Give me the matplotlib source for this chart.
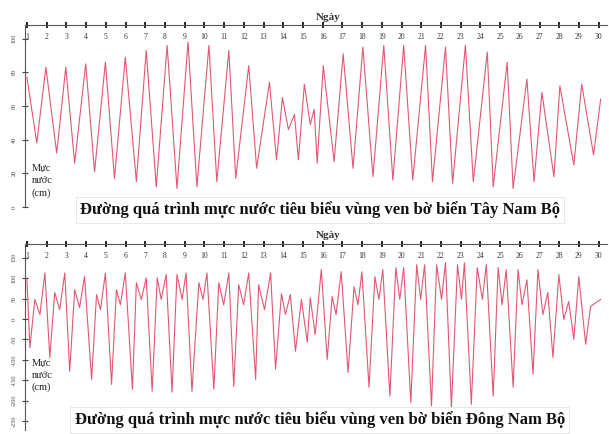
import matplotlib
matplotlib.use("Agg")
import matplotlib.pyplot as plt

# --- data: tidal extremes (time in days, level in cm) ---
days = list(range(1, 31))

west_t = [1.00, 1.50, 1.96, 2.51, 2.97, 3.42, 3.98, 4.43, 4.98, 5.44, 5.99, 6.55,
          7.05, 7.56, 8.11, 8.61, 9.17, 9.62, 10.23, 10.63, 11.24, 11.59, 12.25,
          12.65, 13.30, 13.66, 13.96, 14.26, 14.57, 14.77, 15.07, 15.37, 15.57,
          15.72, 16.03, 16.58, 17.04, 17.54, 18.04, 18.55, 19.10, 19.56, 20.11,
          20.57, 21.22, 21.57, 22.23, 22.59, 23.24, 23.64, 24.35, 24.65, 25.36,
          25.66, 26.36, 26.72, 27.12, 27.73, 28.03, 28.74, 29.14, 29.74, 30.10]
west_h = [77, 38, 83, 32, 83, 26, 85, 21, 86, 17, 89, 15,
          93, 12, 96, 11, 98, 12, 96, 15, 93, 17, 84,
          23, 74, 28, 65, 46, 55, 28, 73, 49, 58,
          26, 84, 27, 91, 23, 95, 18, 96, 16, 96,
          16, 96, 15, 95, 14, 96, 15, 92, 12, 86,
          11, 76, 15, 68, 18, 72, 25, 73, 31, 64]

east_t = [1.00, 1.15, 1.40, 1.66, 1.91, 2.16, 2.41, 2.66, 2.92, 3.17, 3.42, 3.67,
          3.92, 4.28, 4.53, 4.73, 4.98, 5.29, 5.54, 5.74, 5.99, 6.35, 6.55, 6.80,
          7.05, 7.35, 7.61, 7.81, 8.06, 8.36, 8.61, 8.87, 9.07, 9.37, 9.72, 9.93,
          10.13, 10.48, 10.73, 10.98, 11.24, 11.49, 11.74, 11.99, 12.25, 12.60,
          12.75, 13.05, 13.36, 13.61, 13.91, 14.11, 14.36, 14.62, 14.92, 15.22,
          15.37, 15.62, 15.93, 16.23, 16.48, 16.68, 16.94, 17.29, 17.59, 17.79,
          17.99, 18.35, 18.65, 18.85, 19.05, 19.41, 19.71, 19.91, 20.11, 20.47,
          20.77, 20.97, 21.17, 21.52, 21.78, 22.03, 22.23, 22.53, 22.84, 23.04,
          23.19, 23.54, 23.84, 24.10, 24.30, 24.65, 24.90, 25.10, 25.31, 25.66,
          25.91, 26.11, 26.36, 26.67, 26.92, 27.17, 27.42, 27.68, 27.98, 28.23,
          28.48, 28.74, 28.99, 29.34, 29.59, 30.10]
east_h = [96, -70, 48, 11, 113, -94, 65, 23, 113, -128, 72, 28,
          104, -148, 60, 23, 113, -160, 72, 35, 113, -172, 89, 48,
          101, -177, 101, 48, 109, -179, 109, 48, 113, -177, 89, 48,
          113, -172, 89, 35, 113, -165, 84, 35, 113, -148,
          84, 23, 113, -123, 62, 11, 60, -79, 48, -57,
          52, -38, 121, -99, 55, 11, 116, -131, 79, 35,
          116, -167, 104, 48, 121, -189, 126, 48, 126, -204,
          133, 48, 133, -213, 133, 48, 138, -216, 133, 48,
          138, -209, 126, 48, 133, -189, 126, 35, 121, -167,
          121, 35, 96, -135, 121, 11, 65, -94, 109, -1,
          43, -50, 104, -62, 31, 48]

west_ticks = [100, 80, 60, 40, 20, 0]
east_ticks = [150, 100, 50, 0, -50, -100, -150, -200, -250]

title_west = "Đường quá trình mực nước tiêu biểu vùng ven bờ biển Tây Nam Bộ"
title_east = "Đường quá trình mực nước tiêu biểu vùng ven bờ biển Đông Nam Bộ"

line_color = "#e05873"
serif = ["Liberation Serif", "DejaVu Serif"]

fig = plt.figure(figsize=(6.09, 4.34), dpi=100)


def panel(rect, t, h, ticks, ylim, title, title_y, unit_y):
    ax = fig.add_axes(rect)
    ax.plot(t, h, color=line_color, lw=0.8)
    ax.set_xlim(0.9, 30.4)
    ax.set_ylim(*ylim)
    for s in ["right", "bottom"]:
        ax.spines[s].set_visible(False)
    ax.spines["top"].set_color("#555555")
    ax.spines["left"].set_color("#555555")
    ax.spines["top"].set_linewidth(0.8)
    ax.spines["left"].set_linewidth(0.8)

    # day axis on top, labels sit just under the axis line
    ax.xaxis.tick_top()
    ax.set_xticks(days)
    ax.set_xticklabels([])
    ax.tick_params(axis="x", direction="inout", length=5, width=1.4, color="#222222")
    for d in days:
        ax.text(d, 0.955, str(d), transform=ax.get_xaxis_transform(),
                ha="center", va="top", fontsize=5.5, family=serif, color="#333333")
    ax.text(16.3, 1.02, "Ngày", transform=ax.get_xaxis_transform(),
            ha="center", va="bottom", fontsize=8, family=serif,
            fontweight="bold", color="#333333")

    ax.set_yticks(ticks)
    ax.set_yticklabels([str(v) for v in ticks], rotation=90, va="center",
                       fontsize=4.5, family=serif, color="#444444")
    ax.tick_params(axis="y", direction="inout", length=4, width=0.8,
                   color="#444444", pad=4)

    ax.text(0.012, unit_y, "Mực\nnước\n(cm)", transform=ax.transAxes,
            ha="left", va="top", fontsize=7.5, family=serif, color="#222222",
            linespacing=1.45)
    fig.text(0.525, title_y, title, ha="center", va="center", fontsize=12,
             family=serif, fontweight="bold", color="#111111",
             bbox=dict(boxstyle="square,pad=0.25", fc="white", ec="#e4e4e4", lw=0.6))
    return ax


panel([0.041, 0.523, 0.955, 0.419], west_t, west_h, west_ticks, (0, 108),
      title_west, 1 - 210 / 434, 0.235)
panel([0.041, 0.009, 0.955, 0.429], east_t, east_h, east_ticks, (-272, 184),
      title_east, 1 - 420 / 434, 0.385)

fig.savefig("out.png", dpi=100)
